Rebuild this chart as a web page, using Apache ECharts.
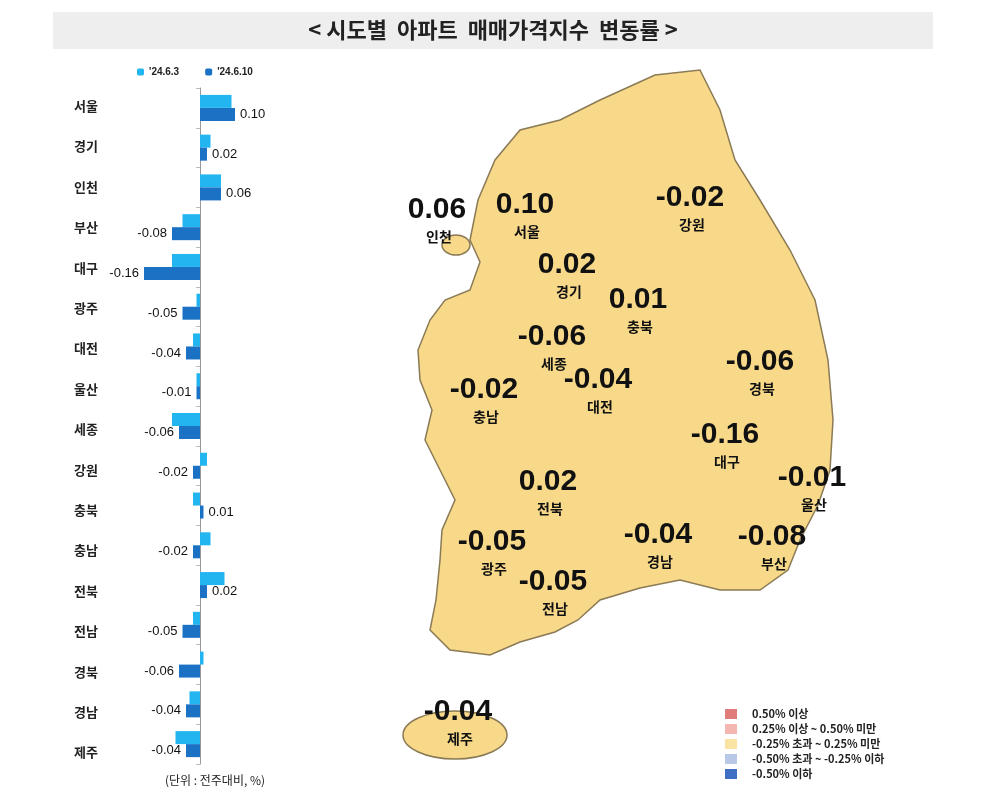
<!DOCTYPE html>
<html><head><meta charset="utf-8">
<script src="https://cdn.jsdelivr.net/npm/echarts@6/dist/echarts.min.js"></script>
<style>html,body{margin:0;background:#fff}#main{width:994px;height:808px}</style>
</head><body><div id="main"></div>
<script>
const regions = ["서울","경기","인천","부산","대구","광주","대전","울산","세종","강원","충북","충남","전북","전남","경북","경남","제주"];
const prevWeek = [0.09,0.03,0.06,-0.05,-0.08,-0.01,-0.02,-0.01,-0.08,0.02,-0.02,0.03,0.07,-0.02,0.01,-0.03,-0.07];
const thisWeek = [0.10,0.02,0.06,-0.08,-0.16,-0.05,-0.04,-0.01,-0.06,-0.02,0.01,-0.02,0.02,-0.05,-0.06,-0.04,-0.04];
// map labels: [value, name, x, y]
const mapLabels = [
  ["0.06","인천",437,210],["0.10","서울",525,205],["-0.02","강원",690,198],
  ["0.02","경기",567,265],["0.01","충북",638,300],["-0.06","세종",552,337],
  ["-0.04","대전",598,380],["-0.02","충남",484,390],["-0.06","경북",760,362],
  ["-0.16","대구",725,435],["-0.01","울산",812,478],["0.02","전북",548,482],
  ["-0.05","광주",492,542],["-0.04","경남",658,535],["-0.08","부산",772,537],
  ["-0.05","전남",553,582],["-0.04","제주",458,712]
];
const legendItems = [["#e07b7b","0.50% 이상"],["#f4b6b0","0.25% 이상 ~ 0.50% 미만"],["#fbe3a3","-0.25% 초과 ~ 0.25% 미만"],["#b9c8e6","-0.50% 초과 ~ -0.25% 이하"],["#3f6fc2","-0.50% 이하"]];

const korea = [[655,75],[700,70],[720,110],[735,160],[760,200],[790,250],[815,300],[828,360],[833,420],[830,470],[818,505],[800,540],[788,570],[760,590],[720,590],[680,580],[640,588],[600,600],[578,620],[555,632],[520,642],[490,655],[450,650],[430,630],[436,600],[440,560],[442,530],[455,500],[440,470],[425,440],[432,410],[420,380],[418,350],[430,320],[445,300],[470,290],[480,262],[470,240],[478,200],[495,160],[520,130],[560,120],[600,100]];

const g = [
  {type:'rect',shape:{x:53,y:12,width:880,height:37},style:{fill:'#eeeeee'}},
  {type:'text',x:493,y:30,style:{text:'< 시도별  아파트  매매가격지수  변동률 >',font:'bold 22px "Noto Sans CJK KR"',fill:'#222',align:'center',verticalAlign:'middle'}},
  {type:'polygon',shape:{points:korea},style:{fill:'#f8d98a',stroke:'#8a7a55',lineWidth:1.5}},
  {type:'ellipse',shape:{cx:455,cy:735,rx:52,ry:24},style:{fill:'#f8d98a',stroke:'#8a7a55',lineWidth:1.5}},
  {type:'ellipse',shape:{cx:456,cy:245,rx:14,ry:10},style:{fill:'#f8d98a',stroke:'#8a7a55',lineWidth:1.5}},
  {type:'text',x:215,y:780,style:{text:'(단위 : 전주대비, %)',font:'12px "Noto Sans CJK KR"',fill:'#222',align:'center',verticalAlign:'middle'}}
];
mapLabels.forEach(l=>{
  g.push({type:'text',x:l[2],y:l[3],style:{text:l[0],font:'bold 30px "Liberation Sans"',fill:'#111',align:'center',verticalAlign:'middle'}});
  g.push({type:'text',x:l[2]+2,y:l[3]+27,style:{text:l[1],font:'bold 14px "Noto Sans CJK KR"',fill:'#111',align:'center',verticalAlign:'middle'}});
});
legendItems.forEach((it,i)=>{
  const y=714+i*15;
  g.push({type:'rect',shape:{x:725,y:y-5,width:12,height:10},style:{fill:it[0]}});
  g.push({type:'text',x:752,y:y,style:{text:it[1],font:'bold 11px "Noto Sans CJK KR"',fill:'#222',verticalAlign:'middle'}});
});

const chart = echarts.init(document.getElementById('main'));
chart.setOption({
  animation:false,
  legend:{data:["'24.6.3","'24.6.10"],top:62,left:132,itemWidth:7,itemHeight:7,itemGap:26,
    textStyle:{fontSize:10,fontWeight:'bold',color:'#222'}},
  grid:{left:130,width:140,top:88,bottom:44},
  xAxis:{type:'value',min:-0.2,max:0.2,show:false},
  yAxis:{type:'category',data:regions,inverse:true,position:'left',
    axisLine:{onZero:true,lineStyle:{color:'#999'}},axisTick:{show:true,length:4,lineStyle:{color:'#bbb'}},
    axisLabel:{show:false}},
  series:[
    {name:"'24.6.3",type:'bar',data:prevWeek,barWidth:13,barGap:'0%',itemStyle:{color:'#22b5ef'}},
    {name:"'24.6.10",type:'bar',data:thisWeek,barWidth:13,itemStyle:{color:'#1b72c4'},
      label:{show:true,formatter:p=>p.value.toFixed(2),position:'outside',
        fontSize:13,fontFamily:'Liberation Sans Narrow, Liberation Sans',color:'#111'}}
  ],
  graphic:g.concat(regions.map((r,i)=>({type:'text',x:86,y:106+i*40.4,
    style:{text:r,font:'bold 13px "Noto Sans CJK KR"',fill:'#222',align:'center',verticalAlign:'middle'}})))
});
</script></body></html>
